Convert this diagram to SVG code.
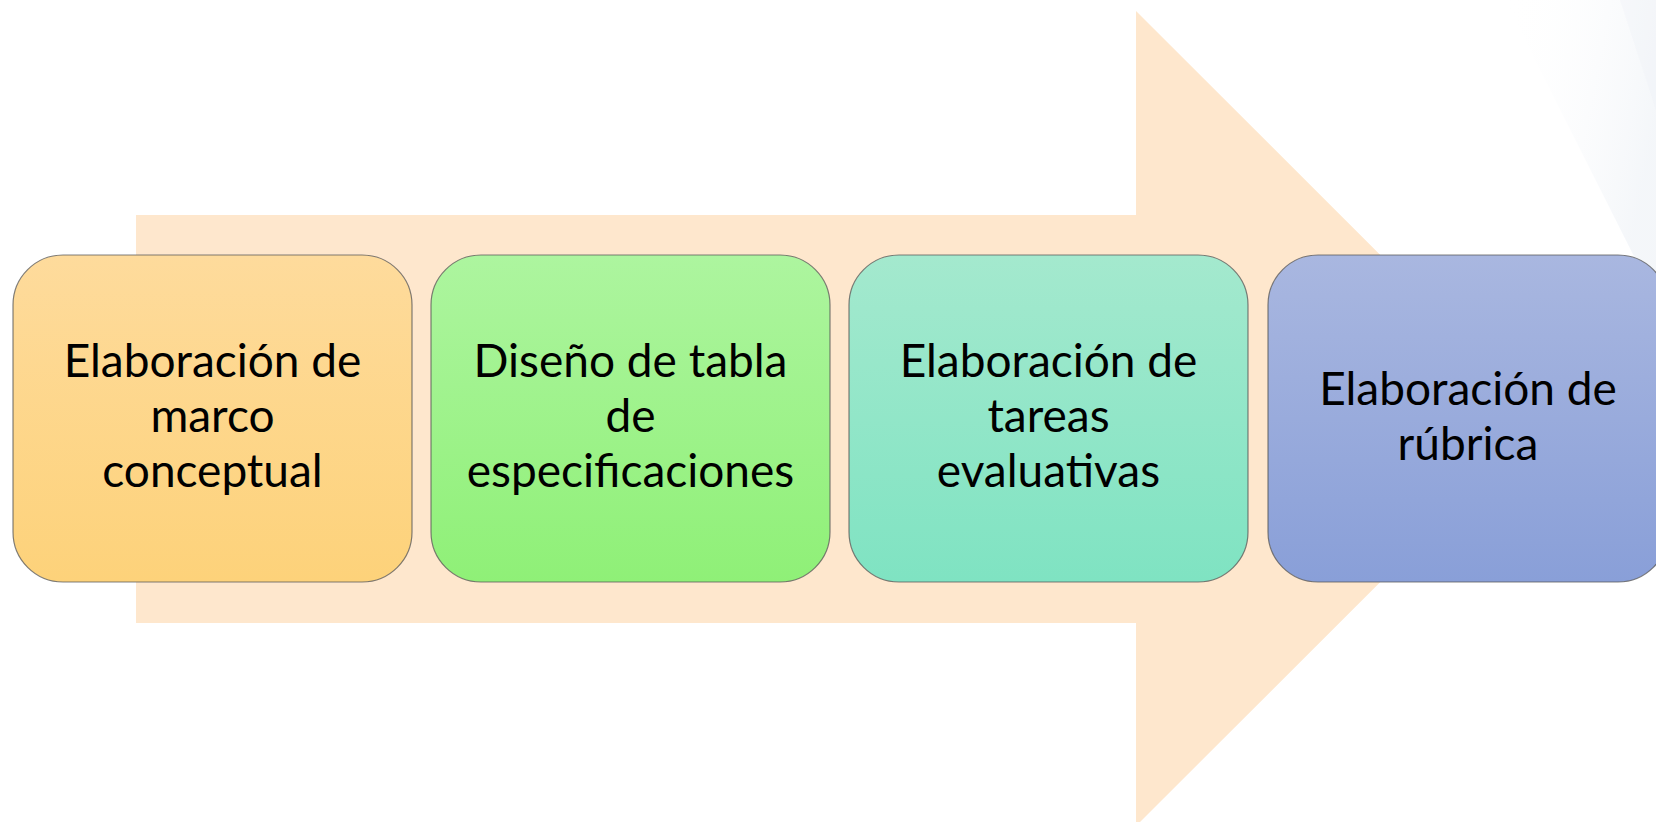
<svg xmlns="http://www.w3.org/2000/svg" width="1656" height="822" viewBox="0 0 1656 822">
<defs>
<linearGradient id="g1" x1="0" y1="0" x2="0" y2="1"><stop offset="0" stop-color="#FEDB9C"/><stop offset="1" stop-color="#FDD27A"/></linearGradient>
<linearGradient id="g2" x1="0" y1="0" x2="0" y2="1"><stop offset="0" stop-color="#ADF59F"/><stop offset="1" stop-color="#8FF077"/></linearGradient>
<linearGradient id="g3" x1="0" y1="0" x2="0" y2="1"><stop offset="0" stop-color="#A4E9CE"/><stop offset="1" stop-color="#7FE3C2"/></linearGradient>
<linearGradient id="g4" x1="0" y1="0" x2="0" y2="1"><stop offset="0" stop-color="#A9B7E0"/><stop offset="1" stop-color="#899FD8"/></linearGradient>
<linearGradient id="bg" x1="0" y1="0" x2="1" y2="0.4"><stop offset="0" stop-color="#FFFFFF" stop-opacity="0"/><stop offset="1" stop-color="#E9EEF4"/></linearGradient>
</defs>
<style>
.box{stroke:#555;stroke-opacity:0.75;stroke-width:1.2}
.t{font-family:Lato,"Liberation Sans",sans-serif;font-size:46px;fill:#000;text-anchor:middle}
</style>
<rect width="1656" height="822" fill="#FFFFFF"/>
<polygon points="1505,0 1656,0 1656,300" fill="url(#bg)" opacity="0.5"/>
<polygon points="1620,0 1656,0 1656,110" fill="#EDF1F6" opacity="0.35"/>
<polygon id="arrow" points="136,215 1136,215 1136,11 1544,418.5 1136,826 1136,623 136,623" fill="#FEE7CD"/>
<g id="node1"><rect class="box" x="13" y="255" width="399" height="327" rx="50" ry="50" fill="url(#g1)"/>
<text class="t" x="212.5" y="377">Elaboración de</text><text class="t" x="212.5" y="432">marco</text><text class="t" x="212.5" y="487">conceptual</text></g>
<g id="node2"><rect class="box" x="431" y="255" width="399" height="327" rx="50" ry="50" fill="url(#g2)"/>
<text class="t" x="630.5" y="377">Diseño de tabla</text><text class="t" x="630.5" y="432">de</text><text class="t" x="630.5" y="487">especificaciones</text></g>
<g id="node3"><rect class="box" x="849" y="255" width="399" height="327" rx="50" ry="50" fill="url(#g3)"/>
<text class="t" x="1048.5" y="377">Elaboración de</text><text class="t" x="1048.5" y="432">tareas</text><text class="t" x="1048.5" y="487">evaluativas</text></g>
<g id="node4"><rect class="box" x="1268" y="255" width="400" height="327" rx="50" ry="50" fill="url(#g4)"/>
<text class="t" x="1468" y="405">Elaboración de</text><text class="t" x="1468" y="460">rúbrica</text></g>
<g id="connectors"></g>
</svg>
